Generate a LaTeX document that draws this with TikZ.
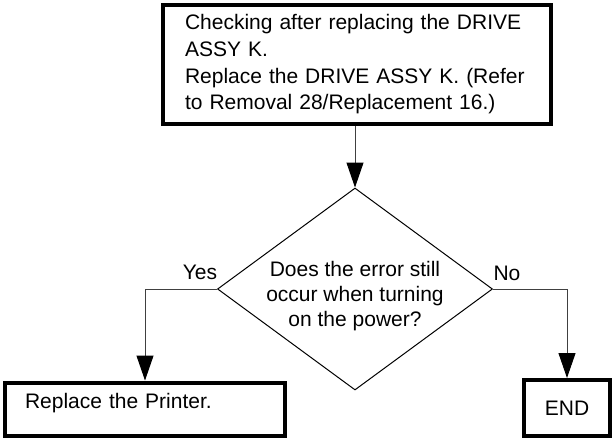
\documentclass[tikz,border=0pt]{standalone}
\usepackage{fontspec}
\setmainfont{Liberation Sans}
\usetikzlibrary{shapes.geometric,arrows.meta}
\tikzset{
  thickbox/.style={draw=black, line width=4pt, rectangle, inner sep=0pt,
    font=\fontsize{21}{26.7}\selectfont},
  dia/.style={draw=black, line width=1pt, diamond, inner sep=0pt,
    minimum width=275pt, minimum height=202pt},
  qtext/.style={align=center, inner sep=0pt, font=\fontsize{21}{25}\selectfont},
  lbl/.style={inner sep=0pt, font=\fontsize{21}{25}\selectfont},
  conn/.style={draw=black!75, line width=1pt,
    -{Triangle[length=25pt,width=17pt,fill=black,color=black]}},
}
\begin{document}
\begin{tikzpicture}[x=1pt,y=-1pt]
\fill[white] (0,0) rectangle (613,439);
\useasboundingbox (0,0) rectangle (613,439);
\node[thickbox, minimum width=388pt, minimum height=119pt, text width=343pt,
  align=left] (box1) at (356.5,64.5)
  {Checking after replacing the DRIVE\\ASSY K.\\Replace the DRIVE ASSY K. (Refer\\to Removal 28/Replacement 16.)};
\node[dia] (q) at (355,289) {};
\node[qtext] (qt) at (355,296) {Does the error still\\occur when turning\\on the power?};
\node[thickbox, minimum width=280pt, minimum height=53pt, text width=240pt,
  align=left, text height=15pt, text depth=17pt] (printer) at (145,409)
  {Replace the Printer.};
\node[thickbox, minimum width=86pt, minimum height=56pt] (endbox) at (567,408)
  {END};
\node[lbl] (yes) at (200,272.5) {Yes};
\node[lbl] (no) at (507,273.5) {No};
\draw[conn] (box1.south -| q.north) -- (q.north);
\draw[conn] (q.west) -| (printer.north);
\draw[conn] (q.east) -| (endbox.north);
\end{tikzpicture}
\end{document}
